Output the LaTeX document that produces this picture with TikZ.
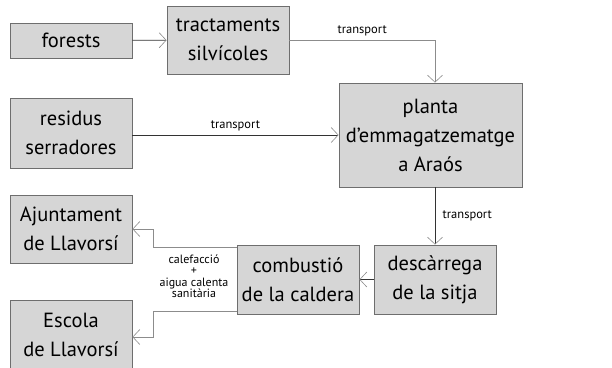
\documentclass[tikz,border=0pt]{standalone}
\usepackage{fontspec}
\setmainfont{PT Sans}
\usetikzlibrary{arrows.meta}
\definecolor{boxgray}{HTML}{D6D6D6}
\definecolor{edgegray}{HTML}{6E6E6E}
\definecolor{linegray}{HTML}{8C8C8C}
\tikzset{
  box/.style = {draw=edgegray, fill=boxgray, line width=0.8pt, align=center,
    inner sep=0pt, font=\fontsize{20.5}{29}\selectfont},
  flow/.style = {-{Straight Barb[length=7pt,width=15pt,color=linegray,line width=0.6pt]},
    line width=0.8pt, draw=black!80},
  pale/.style = {flow, draw=linegray},
  lab/.style = {font=\fontsize{12.5}{12}\selectfont, align=center}
}
\begin{document}
\begin{tikzpicture}[x=1pt, y=-1pt]
\useasboundingbox (0,0) rectangle (612,367);
\node[box, minimum width=122pt, minimum height=35pt] (forests) at (71,40.5) {forests};
\node[box, minimum width=122pt, minimum height=68pt] (tract) at (228,40) {tractaments\\silvícoles};
\node[box, minimum width=122pt, minimum height=70pt] (residus) at (71,133) {residus\\serradores};
\node[box, minimum width=183pt, minimum height=104pt] (planta) at (430.5,135) {planta\\d’emmagatzematge\\a Araós};
\node[box, minimum width=122pt, minimum height=69pt] (descarrega) at (435,279.5) {descàrrega\\de la sitja};
\node[box, minimum width=122pt, minimum height=69pt] (combustio) at (298,279.5) {combustió\\de la caldera};
\node[box, minimum width=122pt, minimum height=68pt] (ajuntament) at (71,229) {Ajuntament\\de Llavorsí};
\node[box, minimum width=122pt, minimum height=70pt] (escola) at (71,335) {Escola\\de Llavorsí};

\draw[flow] (forests) -- (tract);
\draw[pale] (tract.east) -| (descarrega.north |- planta.north)
  node[lab, pos=0.25, above] {transport};
\draw[flow] (residus.east |- planta.west) -- (planta.west)
  node[lab, midway, above] {transport};
\draw[flow] (descarrega.north |- planta.south) -- (descarrega.north)
  node[lab, midway, right=4pt] {transport};
\draw[flow] (descarrega.west) -- (combustio.east);
\draw[pale] ([yshift=-3pt]combustio.north west) -- ++(-83,0) |- (ajuntament.east);
\draw[pale] ([yshift=3pt]combustio.south west) -- ++(-83,0) |- ([yshift=-2pt]escola.east);
\node[lab, font=\fontsize{12}{11.5}\selectfont] (calor) at (194,276) {calefacció\\+\\aigua calenta\\sanitària};
\end{tikzpicture}
\end{document}
